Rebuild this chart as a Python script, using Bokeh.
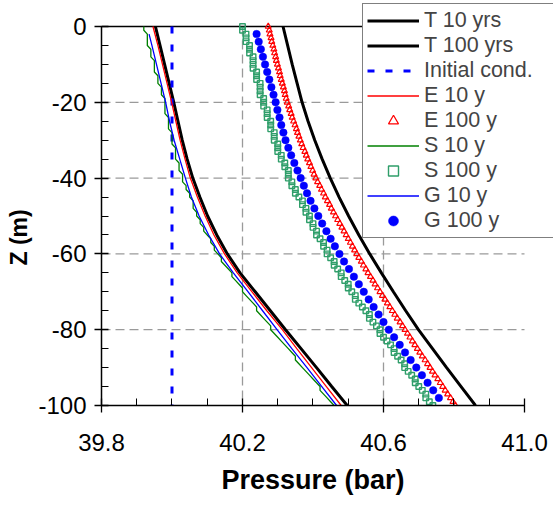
from bokeh.plotting import figure
from bokeh.models import FixedTicker, Legend, LegendItem, Range1d, Title
from bokeh.embed import file_html
from bokeh.resources import INLINE

# ---------------- data ----------------
z_5m = [0, -5, -10, -15, -20, -25, -30, -35, -40, -45, -50,
        -55, -60, -65, -70, -75, -80, -85, -90, -95, -100]
z_1m = list(range(0, -101, -1))
z_2m = list(range(-2, -99, -2))
z_g10 = [-2, -5, -10, -15, -20, -25, -30, -35, -40, -45, -50,
         -55, -60, -65, -70, -75, -80, -85, -90, -95, -100]

t10 = [39.953, 39.966, 39.979, 39.992, 40.005, 40.017, 40.029, 40.043, 40.059, 40.079, 40.101,
       40.127, 40.157, 40.193, 40.236, 40.279, 40.322, 40.366, 40.410, 40.453, 40.497]
t100 = [40.315, 40.328, 40.341, 40.355, 40.369, 40.386, 40.405, 40.426, 40.449, 40.474, 40.501,
        40.530, 40.561, 40.594, 40.628, 40.663, 40.699, 40.739, 40.779, 40.820, 40.861]
init_p = [40.0, 40.0]
init_z = [0, -100]
e10 = [39.946, 39.960, 39.973, 39.986, 39.999, 40.011, 40.023, 40.037, 40.052, 40.072, 40.094,
       40.119, 40.149, 40.185, 40.227, 40.269, 40.313, 40.354, 40.396, 40.438, 40.480]
e100 = [40.273, 40.276, 40.278, 40.281, 40.283, 40.286,
        40.289, 40.291, 40.294, 40.296, 40.299,
        40.302, 40.305, 40.307, 40.310, 40.313,
        40.316, 40.319, 40.321, 40.324, 40.327,
        40.331, 40.334, 40.338, 40.341, 40.345,
        40.349, 40.353, 40.356, 40.360, 40.364,
        40.368, 40.372, 40.377, 40.381, 40.385,
        40.390, 40.394, 40.399, 40.403, 40.408,
        40.413, 40.419, 40.424, 40.430, 40.435,
        40.441, 40.447, 40.452, 40.458, 40.464,
        40.470, 40.476, 40.482, 40.488, 40.494,
        40.500, 40.506, 40.512, 40.518, 40.524,
        40.530, 40.537, 40.543, 40.550, 40.556,
        40.563, 40.570, 40.576, 40.583, 40.590,
        40.597, 40.604, 40.611, 40.618, 40.625,
        40.632, 40.639, 40.647, 40.654, 40.661,
        40.668, 40.675, 40.682, 40.689, 40.696,
        40.703, 40.710, 40.718, 40.725, 40.732,
        40.739, 40.746, 40.754, 40.761, 40.768,
        40.775, 40.782, 40.790, 40.797, 40.804]
s10 = [39.92, 39.92, 39.93, 39.93, 39.93, 39.93, 39.94, 39.94, 39.94, 39.95,
       39.95, 39.95, 39.95, 39.96, 39.96, 39.96, 39.97, 39.97, 39.97, 39.98,
       39.98, 39.98, 39.98, 39.98, 39.99, 39.99, 39.99, 39.99, 40.00, 40.00,
       40.00, 40.00, 40.01, 40.01, 40.01, 40.01, 40.02, 40.02, 40.02, 40.03,
       40.03, 40.03, 40.04, 40.04, 40.05, 40.05, 40.06, 40.06, 40.06, 40.07,
       40.07, 40.08, 40.08, 40.09, 40.09, 40.10, 40.11, 40.11, 40.12, 40.12,
       40.13, 40.14, 40.14, 40.15, 40.16, 40.17, 40.17, 40.18, 40.19, 40.20,
       40.20, 40.21, 40.22, 40.23, 40.24, 40.24, 40.25, 40.26, 40.27, 40.28,
       40.28, 40.29, 40.30, 40.31, 40.32, 40.33, 40.34, 40.35, 40.35, 40.36,
       40.37, 40.38, 40.39, 40.40, 40.41, 40.42, 40.42, 40.43, 40.44, 40.45,
       40.46]
s100 = [40.20, 40.20, 40.21, 40.21, 40.21, 40.22, 40.22, 40.22, 40.23, 40.23,
        40.23, 40.23, 40.24, 40.24, 40.24, 40.25, 40.25, 40.25, 40.25, 40.26,
        40.26, 40.26, 40.27, 40.27, 40.27, 40.28, 40.28, 40.28, 40.29, 40.29,
        40.29, 40.30, 40.30, 40.30, 40.31, 40.31, 40.32, 40.32, 40.33, 40.33,
        40.33, 40.34, 40.34, 40.35, 40.35, 40.36, 40.37, 40.37, 40.38, 40.38,
        40.39, 40.39, 40.40, 40.40, 40.41, 40.41, 40.42, 40.43, 40.43, 40.44,
        40.44, 40.45, 40.46, 40.46, 40.47, 40.48, 40.48, 40.49, 40.50, 40.50,
        40.51, 40.52, 40.52, 40.53, 40.54, 40.55, 40.56, 40.56, 40.57, 40.58,
        40.59, 40.59, 40.60, 40.61, 40.62, 40.63, 40.63, 40.64, 40.65, 40.66,
        40.66, 40.67, 40.68, 40.69, 40.69, 40.70, 40.71, 40.72, 40.72, 40.73,
        40.74]
g10 = [39.935, 39.943, 39.956, 39.969, 39.982, 39.993, 40.006, 40.022, 40.038, 40.055, 40.077,
       40.104, 40.135, 40.174, 40.216, 40.257, 40.298, 40.340, 40.383, 40.425, 40.467]
g100 = [40.240, 40.246, 40.252, 40.258, 40.264, 40.270, 40.276, 40.282, 40.288, 40.294,
        40.299, 40.305, 40.310, 40.316, 40.322, 40.330, 40.338, 40.347, 40.356, 40.365,
        40.374, 40.383, 40.393, 40.404, 40.415, 40.426, 40.438, 40.450, 40.462, 40.475,
        40.488, 40.502, 40.516, 40.530, 40.544, 40.558, 40.572, 40.586, 40.600, 40.615,
        40.630, 40.646, 40.661, 40.677, 40.693, 40.709, 40.725, 40.741, 40.757]

x_min, x_max = 39.8, 41.0
z_min, z_max = -100, 0
x_major = [39.8, 40.2, 40.6, 41.0]
x_tick_labels = ["39.8", "40.2", "40.6", "41.0"]
x_minor = [39.9, 40.0, 40.1, 40.3, 40.4, 40.5, 40.7, 40.8, 40.9]
y_major = [0, -20, -40, -60, -80, -100]
y_tick_labels = ["0", "-20", "-40", "-60", "-80", "-100"]
y_minor = [-5, -10, -15, -25, -30, -35, -45, -50, -55, -65, -70, -75, -85, -90, -95]
x_grid = [40.2, 40.6]
y_grid = [-20, -40, -60, -80]

x_title = "Pressure (bar)"
y_title = "Z (m)"
labels = ["T 10 yrs", "T 100 yrs", "Initial cond.", "E 10 y", "E 100 y",
          "S 10 y", "S 100 y", "G 10 y", "G 100 y"]

FONT = "Liberation Sans"
SEA = "#2f9e6a"

# The frame is widened to the right and upwards so that the legend (which
# sits partly above / right of the data area) is not clipped.
p = figure(width=553, height=505,
           x_range=Range1d(x_min, 41.08227), y_range=Range1d(z_min, 6.8602),
           output_backend="svg", toolbar_location=None,
           min_border_left=101, min_border_right=0, min_border_top=0, min_border_bottom=100)
p.outline_line_color = None
p.background_fill_color = "white"
p.xgrid.visible = False
p.ygrid.visible = False

# axes
for ax in (p.xaxis[0], p.yaxis[0]):
    ax.axis_line_color = "black"
    ax.axis_line_width = 1.5
    ax.major_tick_line_color = "black"
    ax.major_tick_line_width = 1.3
    ax.minor_tick_line_color = "black"
    ax.minor_tick_line_width = 1.0
    ax.major_tick_in = 7
    ax.major_tick_out = 7
    ax.minor_tick_in = 7
    ax.minor_tick_out = 0
    ax.major_label_text_font = FONT
    ax.major_label_text_color = "black"

p.xaxis.bounds = (x_min, x_max)
p.xaxis.ticker = FixedTicker(ticks=x_major, minor_ticks=x_minor)
p.xaxis.major_label_overrides = dict(zip(x_major, x_tick_labels))
p.xaxis.major_label_text_font_size = "24px"
p.xaxis.major_label_standoff = 21

p.yaxis.bounds = (z_min, z_max)
p.yaxis.ticker = FixedTicker(ticks=y_major, minor_ticks=y_minor)
p.yaxis.major_label_overrides = dict(zip(y_major, y_tick_labels))
p.yaxis.major_label_text_font_size = "24px"
p.yaxis.major_label_standoff = 8

# axis titles placed relative to the data area (not the widened frame)
p.add_layout(Title(text=x_title, align="left", offset=120, standoff=18,
                   vertical_align="bottom",
                   text_font=FONT, text_font_size="27px", text_font_style="bold",
                   text_color="black"), "below")
p.add_layout(Title(text=y_title, align="left", offset=140, standoff=4,
                   vertical_align="top",
                   text_font=FONT, text_font_size="23px", text_font_style="bold",
                   text_color="black"), "left")

# dashed grid lines (inside the data area only)
grid_style = dict(line_color="#9a9a9a", line_width=1.3, line_dash="9 5", level="underlay")
p.segment(x0=x_grid, x1=x_grid, y0=[z_max] * len(x_grid), y1=[z_min] * len(x_grid), **grid_style)
p.segment(x0=[x_min] * len(y_grid), x1=[x_max] * len(y_grid), y0=y_grid, y1=y_grid, **grid_style)

# top frame line
p.segment(x0=[x_min], x1=[x_max], y0=[z_max], y1=[z_max], line_color="black", line_width=1.5)

# series
r_t10 = p.line(t10, z_5m, line_color="black", line_width=3)
r_t100 = p.line(t100, z_5m, line_color="black", line_width=3)
r_init = p.line(init_p, init_z, line_color="#0000ff", line_width=3, line_dash="7 11")
r_e10 = p.line(e10, z_5m, line_color="#ff0000", line_width=1.3)
r_e100 = p.scatter(e100, z_1m, marker="triangle", size=6, fill_color=None,
                   line_color="#ff0000", line_width=1.2)
r_s10 = p.line(s10, z_1m, line_color="#008000", line_width=1.3)
r_s100 = p.scatter(s100, z_1m, marker="square", size=5.5, fill_color=None,
                   line_color=SEA, line_width=1.4)
r_g10 = p.line(g10, z_g10, line_color="#0000ff", line_width=1.3)
r_g100 = p.scatter(g100, z_2m, marker="circle", size=7.5, fill_color="#0000ff",
                   line_color="#0000ff", line_width=0.5)

renderers = [r_t10, r_t100, r_init, r_e10, r_e100, r_s10, r_s100, r_g10, r_g100]
items = [LegendItem(label=lab, renderers=[r]) for lab, r in zip(labels, renderers)]
legend = Legend(items=items, location=(261, 167),
                label_text_font=FONT, label_text_font_size="21.5px",
                glyph_width=52, glyph_height=25, label_height=25, label_width=125,
                label_standoff=5, spacing=0, padding=4, margin=0,
                border_line_color="black", border_line_width=1.5,
                background_fill_color="white", background_fill_alpha=1.0)
p.add_layout(legend)

open("out.html", "w").write(file_html(p, INLINE))
